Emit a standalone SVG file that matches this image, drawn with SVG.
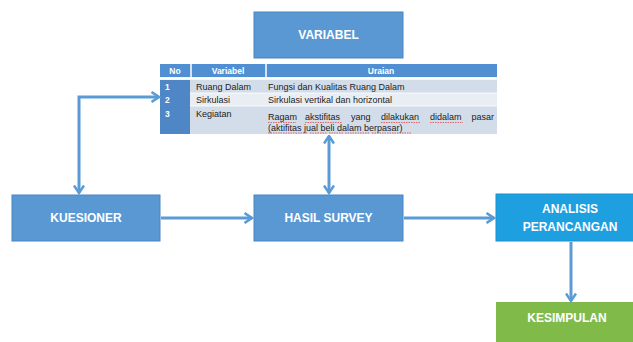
<svg xmlns="http://www.w3.org/2000/svg" width="633" height="342" viewBox="0 0 633 342">
<style>
.box{fill:#5a98d3;stroke:#4a86c0;stroke-width:1}
.lbl{font-family:"Liberation Sans",Arial,sans-serif;font-weight:bold;font-size:12px;fill:#fff;text-anchor:middle;dominant-baseline:central}
.th{font-family:"Liberation Sans",Arial,sans-serif;font-weight:bold;font-size:8.5px;fill:#fff;text-anchor:middle;dominant-baseline:central}
.td{font-family:"Liberation Sans",Arial,sans-serif;font-size:9px;fill:#222;dominant-baseline:central}
.tn{font-family:"Liberation Sans",Arial,sans-serif;font-weight:bold;font-size:8.5px;fill:#fff;dominant-baseline:central}
.con{fill:none;stroke:#5b9bd5;stroke-width:3}
.sq{stroke:#e04848;stroke-width:0.8;stroke-dasharray:1.5 1;fill:none}
</style>
<defs>
<marker id="arr" viewBox="0 0 10 12" refX="8.5" refY="6" markerWidth="10" markerHeight="12" markerUnits="userSpaceOnUse" orient="auto-start-reverse">
<path d="M1,1 L8.5,6 L1,11" fill="none" stroke="#5b9bd5" stroke-width="2.5"/>
</marker>
</defs>
<rect width="633" height="342" fill="#fff"/>
<g id="variabel">
<rect class="box" x="254" y="12" width="149" height="46"/>
<text class="lbl" x="328.5" y="35">VARIABEL</text>
</g>
<g id="table">
<rect x="160" y="64" width="337" height="70" fill="#e8edf4"/>
<rect x="160" y="64" width="337" height="13" fill="#4f8fd2"/>
<rect x="160" y="80" width="337" height="13" fill="#d3dde9"/>
<rect x="160" y="93" width="337" height="13" fill="#e9eef5"/>
<rect x="160" y="106" width="337" height="28" fill="#d3dde9"/>
<rect x="160" y="80" width="30" height="54" fill="#4f87c6"/>
<line x1="160" y1="78.5" x2="497" y2="78.5" stroke="#fff" stroke-width="2"/>
<line x1="191" y1="64" x2="191" y2="78" stroke="#fff" stroke-width="1.5"/>
<line x1="266" y1="64" x2="266" y2="78" stroke="#fff" stroke-width="1.5"/>
<line x1="190" y1="93" x2="497" y2="93" stroke="#fff" stroke-width="0.8"/>
<line x1="190" y1="106" x2="497" y2="106" stroke="#fff" stroke-width="0.8"/>
<text class="th" x="175" y="71">No</text>
<text class="th" x="228" y="71">Variabel</text>
<text class="th" x="381" y="71">Uraian</text>
<text class="tn" x="165" y="87">1</text>
<text class="tn" x="165" y="100">2</text>
<text class="tn" x="165" y="114">3</text>
<text class="td" x="196" y="87">Ruang Dalam</text>
<text class="td" x="196" y="100">Sirkulasi</text>
<text class="td" x="196" y="114">Kegiatan</text>
<text class="td" x="268" y="87">Fungsi dan Kualitas Ruang Dalam</text>
<text class="td" x="268" y="100">Sirkulasi vertikal dan horizontal</text>
<text class="td" x="268" y="117">Ragam</text>
<text class="td" x="305" y="117">akstifitas</text>
<text class="td" x="351" y="117">yang</text>
<text class="td" x="381" y="117">dilakukan</text>
<text class="td" x="430" y="117">didalam</text>
<text class="td" x="494" y="117" text-anchor="end">pasar</text>
<text class="td" x="268" y="128">(aktifitas jual beli dalam berpasar)</text>
<path class="sq" d="M268,122.5 H296 M305,122.5 H342 M381,122.5 H420 M430,122.5 H463 M268,133 H307 M310,133 H327 M329,133 H343 M345,133 H370 M372,133 H412"/>
</g>
<g id="kuesioner">
<rect class="box" x="12" y="195" width="148" height="46"/>
<text class="lbl" x="86" y="218">KUESIONER</text>
</g>
<g id="hasil-survey">
<rect class="box" x="254" y="195" width="149" height="46"/>
<text class="lbl" x="328.5" y="218">HASIL SURVEY</text>
</g>
<g id="analisis">
<rect x="496" y="194" width="140" height="47" fill="#1ea0e0" stroke="#1a90cc" stroke-width="1"/>
<text class="lbl" x="570" y="209">ANALISIS</text>
<text class="lbl" x="570" y="227">PERANCANGAN</text>
</g>
<g id="kesimpulan">
<rect x="496" y="302" width="140" height="42" fill="#80bb4a"/>
<text class="lbl" x="567" y="318">KESIMPULAN</text>
</g>
<g id="connectors">
<path class="con" d="M159,97 H79 V193" marker-start="url(#arr)" marker-end="url(#arr)"/>
<path class="con" d="M329,136 V193" marker-start="url(#arr)" marker-end="url(#arr)"/>
<path class="con" d="M161,218 H252" marker-end="url(#arr)"/>
<path class="con" d="M404,218 H494" marker-end="url(#arr)"/>
<path class="con" d="M571,242 V301" marker-end="url(#arr)"/>
</g>
</svg>
